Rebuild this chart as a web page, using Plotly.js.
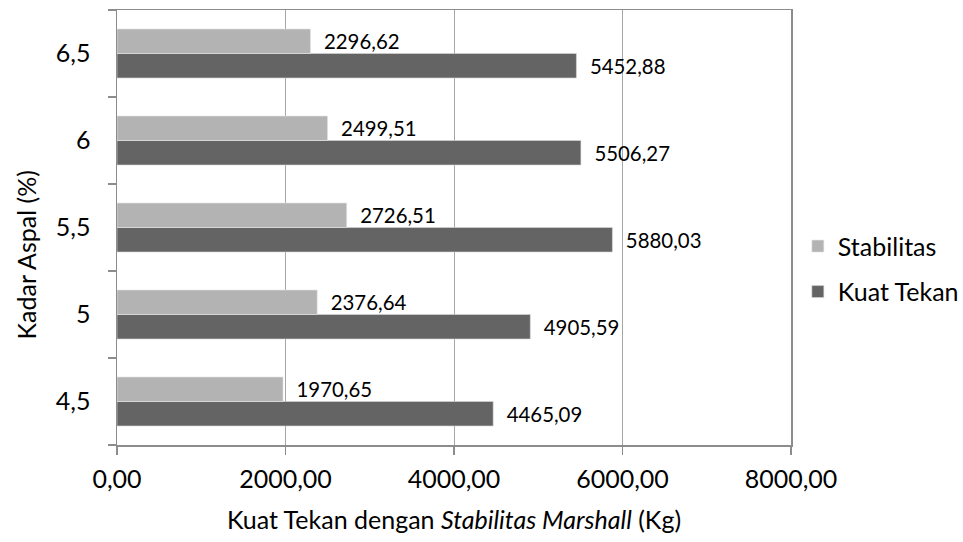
<!DOCTYPE html>
<html>
<head>
<meta charset="utf-8">
<script src="https://cdn.plot.ly/plotly-3.0.1.min.js"></script>
<style>
html,body{margin:0;padding:0;background:#fff;}
#chart{width:963px;height:542px;}
</style>
</head>
<body>
<div id="chart"></div>
<script>
var categories = ['4,5', '5', '5,5', '6', '6,5'];
var stabilitas = [1970.65, 2376.64, 2726.51, 2499.51, 2296.62];
var kuatTekan = [4465.09, 4905.59, 5880.03, 5506.27, 5452.88];
var xTicks = [0, 2000, 4000, 6000, 8000];

var FONT = 'Lato, "Open Sans", sans-serif';
var FS = 25;
var pad = '\u00a0\u00a0';

var traces = [
  {
    type: 'bar', orientation: 'h', name: 'Kuat Tekan',
    y: categories, x: kuatTekan,
    marker: {color: '#646464', line: {color: '#d9d9d9', width: 0.6}},
    text: kuatTekan, texttemplate: pad + '%{x:.2f}', textposition: 'outside',
    textfont: {family: FONT, size: FS, color: '#000'},
    cliponaxis: false, legendgroup: 'b', legendrank: 2, hoverinfo: 'x+name'
  },
  {
    type: 'bar', orientation: 'h', name: 'Stabilitas',
    y: categories, x: stabilitas,
    marker: {color: '#b3b3b3', line: {color: '#e6e6e6', width: 0.6}},
    text: stabilitas, texttemplate: pad + '%{x:.2f}', textposition: 'outside',
    textfont: {family: FONT, size: FS, color: '#000'},
    cliponaxis: false, legendgroup: 'a', legendrank: 1, hoverinfo: 'x+name'
  }
];

var layout = {
  width: 963, height: 542,
  margin: {l: 116.5, r: 172, t: 10, b: 97},
  paper_bgcolor: '#fff', plot_bgcolor: '#fff',
  separators: ',.',
  font: {family: FONT, size: FS, color: '#000'},
  barmode: 'group', bargap: 0.437, bargroupgap: 0,
  showlegend: true,
  legend: {
    xref: 'container', yref: 'container',
    x: 0.8285, xanchor: 'left', y: 0.504, yanchor: 'middle',
    traceorder: 'grouped', tracegroupgap: 10, itemwidth: 30,
    font: {family: FONT, size: FS, color: '#000'},
    bgcolor: 'rgba(0,0,0,0)'
  },
  xaxis: {
    range: [0, 8000], tickvals: xTicks, tickformat: '.2f',
    showgrid: true, gridcolor: '#a6a6a6', gridwidth: 1,
    showline: true, linecolor: '#8c8c8c', linewidth: 1.5, mirror: true,
    ticks: 'outside', ticklen: 8, tickcolor: '#8c8c8c', tickwidth: 1.5,
    ticklabelstandoff: 3,
    zeroline: false, automargin: false,
    tickfont: {family: FONT, size: FS, color: '#000'},
    title: {text: 'Kuat Tekan dengan <i>Stabilitas Marshall</i> (Kg)', standoff: 20,
            font: {family: FONT, size: FS, color: '#000'}},
    fixedrange: true
  },
  yaxis: {
    type: 'category', categoryorder: 'array', categoryarray: categories,
    showgrid: false,
    showline: true, linecolor: '#8c8c8c', linewidth: 1.5, mirror: true,
    ticks: 'outside', tickson: 'boundaries', ticklen: 8, tickcolor: '#8c8c8c', tickwidth: 1.5,
    ticklabelstandoff: 20, automargin: false,
    tickfont: {family: FONT, size: FS, color: '#000'},
    fixedrange: true
  },
  annotations: [
    {text: 'Kadar Aspal (%)', xref: 'paper', yref: 'paper',
     x: -0.1357, y: 0.437, xanchor: 'center', yanchor: 'middle',
     textangle: -90, showarrow: false,
     font: {family: FONT, size: FS, color: '#000'}}
  ]
};

Plotly.newPlot('chart', traces, layout, {displayModeBar: false, staticPlot: true});
</script>
</body>
</html>
